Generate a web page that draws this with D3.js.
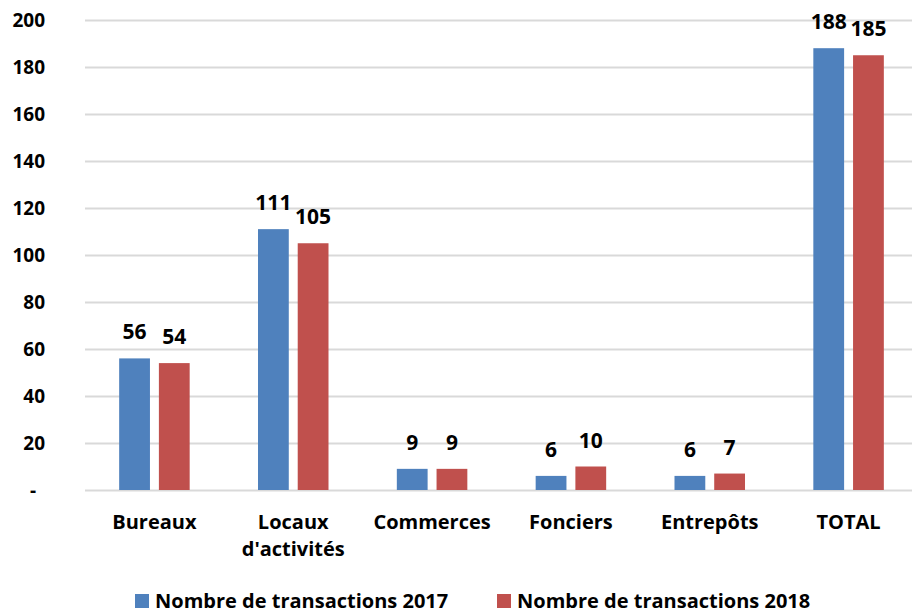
<!DOCTYPE html>
<meta charset="utf-8">
<style>
body { margin: 0; background: #fff; }
text { font-family: "Open Sans", sans-serif; font-weight: bold; fill: #000; }
.grid line { stroke: #d9d9d9; stroke-width: 2px; }
</style>
<body>
<div id="chart"></div>
<script src="https://cdn.jsdelivr.net/npm/d3@7"></script>
<script>
var categories = ["Bureaux", "Locaux\nd'activités", "Commerces", "Fonciers", "Entrepôts", "TOTAL"];
var series = ["Nombre de transactions 2017", "Nombre de transactions 2018"];
var values2017 = [56, 111, 9, 6, 6, 188];
var values2018 = [54, 105, 9, 10, 7, 185];
var yTicks = [0, 20, 40, 60, 80, 100, 120, 140, 160, 180, 200];
var colors = ["#4f81bd", "#c0504d"];

var width = 912, height = 614;
var margin = {left: 85, right: -6, top: 20, bottom: 124};

var svg = d3.select("#chart").append("svg")
	.attr("width", width)
	.attr("height", height);

var x = d3.scaleBand()
	.domain(categories)
	.range([margin.left, width - margin.right]);

var x1 = d3.scaleBand()
	.domain([0, 1])
	.range([0, x.bandwidth()])
	.paddingInner(0.225)
	.paddingOuter(0.86);

var y = d3.scaleLinear()
	.domain([0, 200])
	.range([height - margin.bottom, margin.top]);

// gridlines
svg.append("g")
	.attr("class", "grid")
	.selectAll("line")
	.data(yTicks)
	.enter().append("line")
	.attr("x1", margin.left)
	.attr("x2", width)
	.attr("y1", function (d) { return y(d) + 0.5; })
	.attr("y2", function (d) { return y(d) + 0.5; });

// y labels
svg.append("g")
	.selectAll("text")
	.data(yTicks)
	.enter().append("text")
	.attr("x", d => d === 0 ? 36 : 45)
	.attr("y", d => y(d) + 7)
	.attr("text-anchor", "end")
	.style("font-size", "19px")
	.text(d => d === 0 ? "-" : d);

var data = categories.map(function (c, i) {
	return {cat: c, vals: [values2017[i], values2018[i]]};
});

var groups = svg.selectAll(".cat")
	.data(data)
	.enter().append("g")
	.attr("transform", d => "translate(" + x(d.cat) + ",0)");

groups.selectAll("rect")
	.data(d => d.vals.map((v, k) => ({k: k, v: v})))
	.enter().append("rect")
	.attr("x", d => x1(d.k))
	.attr("width", x1.bandwidth())
	.attr("y", d => y(d.v))
	.attr("height", d => y(0) - y(d.v))
	.attr("fill", d => colors[d.k]);

groups.selectAll(".val")
	.data(d => d.vals.map((v, k) => ({k: k, v: v})))
	.enter().append("text")
	.attr("x", d => x1(d.k) + x1.bandwidth() / 2)
	.attr("y", d => y(d.v) - 19)
	.attr("text-anchor", "middle")
	.style("font-size", "21px")
	.text(d => d.v);

// category labels
groups.append("text")
	.attr("text-anchor", "middle")
	.style("font-size", "20px")
	.selectAll("tspan")
	.data(d => d.cat.split("\n"))
	.enter().append("tspan")
	.attr("x", x.bandwidth() / 2)
	.attr("y", (d, i) => 529 + i * 27)
	.text(d => d);

// legend
var legendX = [135, 497];
var legend = svg.selectAll(".legend")
	.data(series)
	.enter().append("g")
	.attr("transform", (d, i) => "translate(" + legendX[i] + ",594)");

legend.append("rect")
	.attr("width", 14)
	.attr("height", 14)
	.attr("fill", (d, i) => colors[i]);

legend.append("text")
	.attr("x", 20)
	.attr("y", 14)
	.style("font-size", "20px")
	.text(d => d);
</script>
</body>
